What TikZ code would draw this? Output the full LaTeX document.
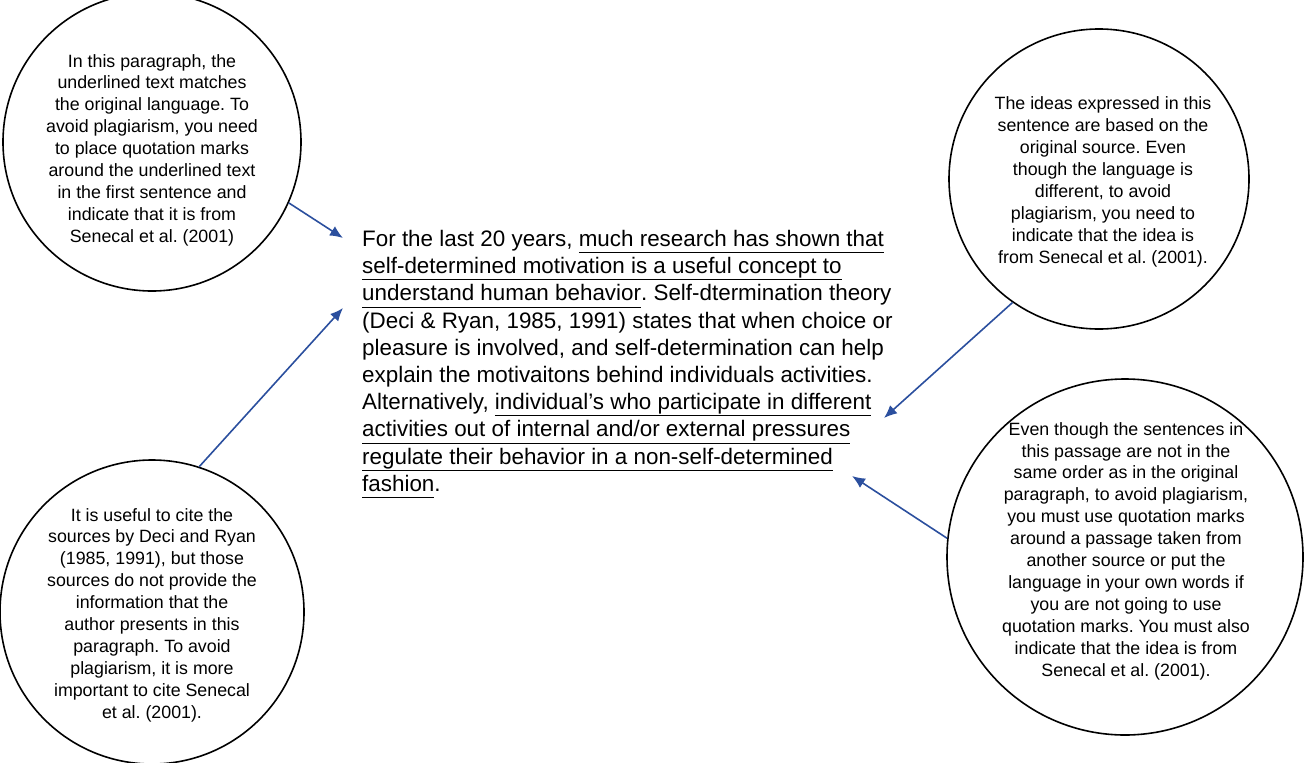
\documentclass[tikz,border=0pt]{standalone}
\usepackage{fontspec}
\setmainfont{Liberation Sans}
\usetikzlibrary{arrows.meta}
\definecolor{arr}{HTML}{2B4F9E}
\newcommand{\ul}[1]{\underline{\smash{#1}\vphantom{y}}}
\frenchspacing
\begin{document}
\begin{tikzpicture}[x=1pt,y=-1pt,
  bub/.style={circle,draw,line width=1.6pt,minimum size=#1,inner sep=0pt},
  btxt/.style={align=center,font=\fontsize{17.8}{21.9}\selectfont},
  con/.style={draw=arr,line width=1.6pt,-{Latex[length=13pt,width=11pt]}}]
\useasboundingbox (0,0) rectangle (1304,763);
\node[bub=298pt] (c1) at (152,142) {};
\node[btxt] (t1) at (152,150) {In this paragraph, the\\underlined text matches\\the original language. To\\avoid plagiarism, you need\\to place quotation marks\\around the underlined text\\in the first sentence and\\indicate that it is from\\Senecal et al. (2001)};
\node[bub=304pt] (c2) at (152,612) {};
\node[btxt] (t2) at (152,615) {It is useful to cite the\\sources by Deci and Ryan\\(1985, 1991), but those\\sources do not provide the\\information that the\\author presents in this\\paragraph. To avoid\\plagiarism, it is more\\important to cite Senecal\\et al. (2001).};
\node[bub=300pt] (c3) at (1099,179) {};
\node[btxt] (t3) at (1103,182) {The ideas expressed in this\\sentence are based on the\\original source. Even\\though the language is\\different, to avoid\\plagiarism, you need to\\indicate that the idea is\\from Senecal et al. (2001).};
\node[bub=356pt] (c4) at (1125,557) {};
\node[btxt] (t4) at (1126,551) {Even though the sentences in\\this passage are not in the\\same order as in the original\\paragraph, to avoid plagiarism,\\you must use quotation marks\\around a passage taken from\\another source or put the\\language in your own words if\\you are not going to use\\quotation marks. You must also\\indicate that the idea is from\\Senecal et al. (2001).};
\node[anchor=north west,align=left,inner sep=0pt,font=\fontsize{22.4}{27.2}\selectfont] (main) at (362,230) {For the last 20 years, \ul{much research has shown that}\\\ul{self-determined motivation is a useful concept to}\\\ul{understand human behavior}. Self-dtermination theory\\(Deci \& Ryan, 1985, 1991) states that when choice or\\pleasure is involved, and self-determination can help\\explain the motivaitons behind individuals activities.\\Alternatively, \ul{individual's who participate in different}\\\ul{activities out of internal and/or external pressures}\\\ul{regulate their behavior in a non-self-determined}\\\ul{fashion}.};
\coordinate (a1) at (343,238);
\coordinate (a2) at (343,308);
\coordinate (a3) at (884,418);
\coordinate (a4) at (852,476);
\draw[con] (c1.-24) -- (a1);
\draw[con] (c2.72) -- (a2);
\draw[con] (c3.-125) -- (a3);
\draw[con] (c4.174.5) -- (a4);
\end{tikzpicture}
\end{document}
